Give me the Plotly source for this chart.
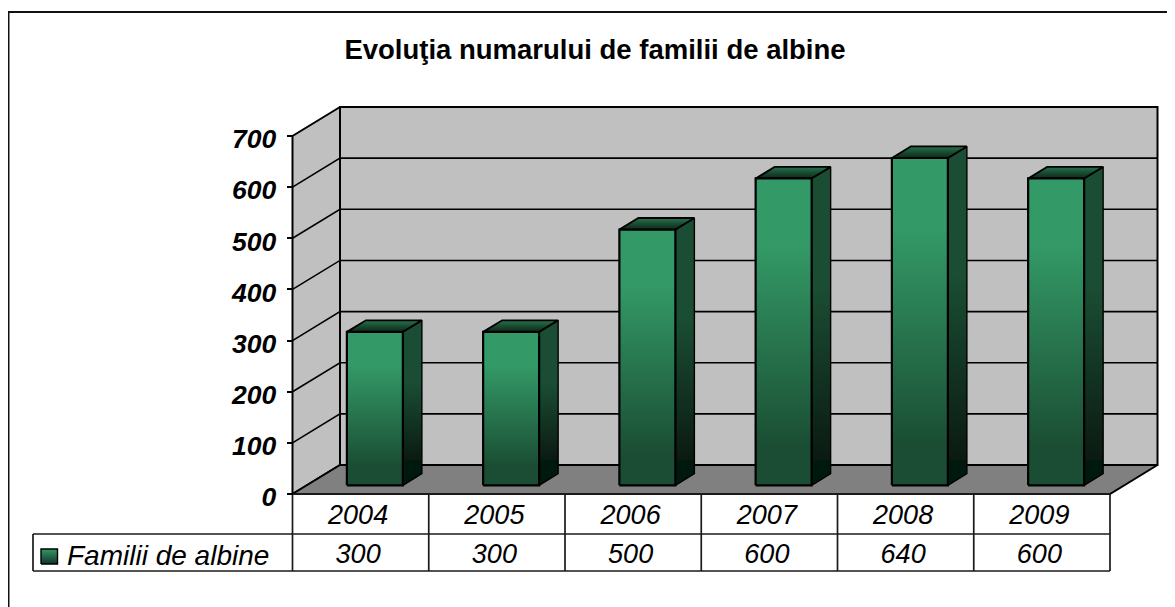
import plotly.graph_objects as go

# ---- data ----
years = ["2004", "2005", "2006", "2007", "2008", "2009"]
families = [300, 300, 500, 600, 640, 600]
y_ticks = [0, 100, 200, 300, 400, 500, 600, 700]
series_name = "Familii de albine"
title_text = "Evoluţia numarului de familii de albine"

# ---- geometry (the page body adds an 8 px margin at top and left) ----
PAGE = 8
W, H = 1175 - PAGE, 607 - PAGE
X0, CAT_PX = 292.5 - PAGE, 136.25   # pixel of category edge 0, pixels per category
Y0, VAL_PX = 494.0 - PAGE, 0.5114   # pixel of value 0, pixels per value unit
DX = 47.5 / CAT_PX                  # wall depth in x units
DY = 29.0 / VAL_PX                  # wall depth in y units
YMAX = 700
N = len(years)
BAR_HALF = 28.0 / CAT_PX
D_FRONT, D_BACK = 0.30, 0.70


def ux(px):
    return (px - PAGE - X0) / CAT_PX


def uy(py):
    return -(py - PAGE - Y0) / VAL_PX


ROW1 = uy(534)
ROW2 = uy(571)
TABLE_LEFT = ux(33)

LINE = "#000000"
fig = go.Figure()


def poly(xs, ys, fill=None, grad=None, lw=1.8, color=LINE):
    kw = dict(x=list(xs) + [xs[0]], y=list(ys) + [ys[0]], mode="lines",
              line=dict(color=color, width=lw), hoverinfo="skip", showlegend=False,
              fill="toself")
    if grad:
        kw["fillgradient"] = dict(type="vertical", colorscale=grad)
    else:
        kw["fillcolor"] = fill
    fig.add_trace(go.Scatter(**kw))


def seg(xs, ys, lw=1.6, color=LINE):
    fig.add_trace(go.Scatter(x=xs, y=ys, mode="lines", line=dict(color=color, width=lw),
                             hoverinfo="skip", showlegend=False))


# walls and floor
poly([0, DX, DX, 0], [0, DY, YMAX + DY, YMAX], "#c0c0c0", lw=2)
poly([DX, N + DX, N + DX, DX], [DY, DY, YMAX + DY, YMAX + DY], "#c0c0c0", lw=2)
poly([0, N, N + DX, DX], [0, 0, DY, DY], "#808080", lw=2)

# gridlines
for t in y_ticks[1:-1]:
    seg([0, DX, N + DX], [t, t + DY, t + DY], lw=1.6)

FRONT = [[0, "#1a4d33"], [0.12, "#1a4d33"], [0.78, "#339966"], [1, "#339966"]]
TOP = [[0, "#0f2a1d"], [0.35, "#16402b"], [1, "#26734d"]]

# bars
for i, v in enumerate(families):
    c = i + 0.5
    xl, xr = c - BAR_HALF + D_FRONT * DX, c + BAR_HALF + D_FRONT * DX
    bxr = c + BAR_HALF + D_BACK * DX
    yb, yt = D_FRONT * DY, v + D_FRONT * DY
    dy = (D_BACK - D_FRONT) * DY
    total = (v + dy) * VAL_PX
    t = 25.0 / total
    side = [[0, "#00190f"], [t, "#00190f"], [t + 0.001, "#0b1a12"],
            [0.62, "#1a4d33"], [1, "#1a4d33"]]
    poly([xr, bxr, bxr, xr], [yb, yb + dy, yt + dy, yt], grad=side, lw=1.4)
    poly([xl, xr, bxr, xl + (bxr - xr)], [yt, yt, yt + dy, yt + dy], grad=TOP, lw=1.8)
    poly([xl, xr, xr, xl], [yb, yb, yt, yt], grad=FRONT, lw=2.2)

# data table
for k in range(N + 1):
    seg([k, k], [0, ROW2], lw=1.7, color="#1a1a1a")
seg([0, N], [0, 0], lw=2.2, color="#1a1a1a")
seg([TABLE_LEFT, N], [ROW1, ROW1], lw=1.7, color="#1a1a1a")
seg([TABLE_LEFT, N], [ROW2, ROW2], lw=1.7, color="#1a1a1a")
seg([TABLE_LEFT, TABLE_LEFT], [ROW1, ROW2], lw=1.7, color="#1a1a1a")

rowfont = dict(family="Liberation Sans", size=27, color="#000000", style="italic")
labelfont = dict(family="Liberation Sans", size=28, color="#000000", style="italic")
TEXT_SHIFT = 2.5 / CAT_PX
centers = [k + 0.5 - TEXT_SHIFT for k in range(N)]
fig.add_trace(go.Scatter(x=centers, y=[uy(517)] * N, text=years, mode="text",
                         textposition="middle center", textfont=rowfont,
                         hoverinfo="skip", showlegend=False))
fig.add_trace(go.Scatter(x=centers, y=[uy(556)] * N, text=[str(v) for v in families],
                         mode="text", textposition="middle center", textfont=rowfont,
                         hoverinfo="skip", showlegend=False))

# legend key + label in the table
poly([ux(41), ux(57.5), ux(57.5), ux(41)], [uy(564), uy(564), uy(549), uy(549)],
     grad=[[0, "#14332a"], [1, "#339966"]], lw=1.4)
fig.add_trace(go.Scatter(x=[ux(67)], y=[uy(558)], text=[series_name], mode="text",
                         textposition="middle right", textfont=labelfont,
                         hoverinfo="skip", showlegend=False))

fig.update_layout(
    width=W, height=H, autosize=False,
    margin=dict(l=0, r=0, t=0, b=0),
    paper_bgcolor="#ffffff", plot_bgcolor="#ffffff",
    showlegend=False,
    title=dict(text=title_text, x=(595 - PAGE) / W, xanchor="center",
               y=1 - (49 - PAGE) / H, yanchor="middle",
               font=dict(family="Liberation Sans", size=27.5, color="#000000", weight="bold")),
    xaxis=dict(range=[-X0 / CAT_PX, (W - X0) / CAT_PX], domain=[0, 1],
               showticklabels=False, ticks="", showgrid=False, zeroline=False, showline=False),
    yaxis=dict(
        range=[(Y0 - H) / VAL_PX, Y0 / VAL_PX], domain=[0, 1], anchor="free",
        position=X0 / W, tickmode="array", tickvals=y_ticks,
        ticks="outside", ticklen=6, tickwidth=1.8, tickcolor="#000000",
        ticklabelstandoff=5, ticklabelshift=3,
        showgrid=False, zeroline=False, showline=False,
        tickfont=dict(family="Liberation Sans", size=26.5, color="#000000",
                      style="italic", weight="bold")),
    shapes=[
        dict(type="line", xref="paper", yref="paper", x0=0, x1=1,
             y0=1 - (12 - PAGE) / H, y1=1 - (12 - PAGE) / H,
             line=dict(color="#111111", width=2)),
        dict(type="line", xref="paper", yref="paper", x0=0.5 / W, x1=0.5 / W,
             y0=1 - (12 - PAGE) / H, y1=0,
             line=dict(color="#111111", width=2)),
    ],
)

fig.write_html("out.html")
